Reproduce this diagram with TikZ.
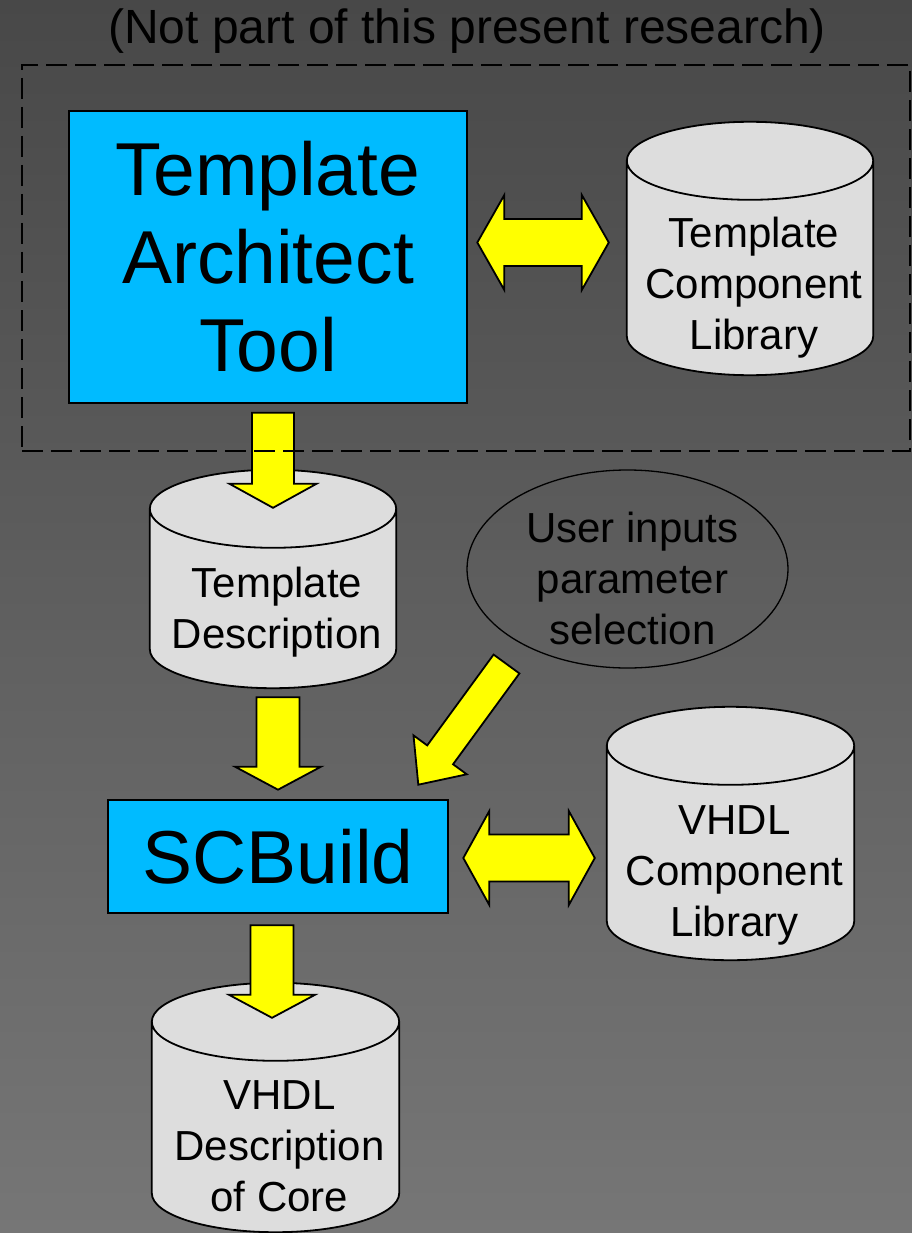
\documentclass[tikz,border=0pt]{standalone}
\usepackage{fontspec}
\setmainfont{Liberation Sans}
\usetikzlibrary{shapes.geometric,calc,backgrounds}

\definecolor{toolcyan}{RGB}{0,187,255}
\definecolor{flowyellow}{RGB}{255,255,0}
\definecolor{dbgray}{RGB}{221,221,221}
\definecolor{bgtop}{RGB}{72,72,72}
\definecolor{bgbottom}{RGB}{118,118,118}

\tikzset{
  toolbox/.style={draw,line width=2.6pt,fill=toolcyan,align=center,inner sep=0pt,
    font=\fontsize{75}{88}\selectfont},
  dbase/.style={rectangle,inner sep=0pt},
  dbline/.style={draw,line width=1.8pt,fill=dbgray},
  dbtext/.style={align=center,inner sep=0pt,xshift=4pt,font=\fontsize{42}{51}\selectfont},
  blockarrow/.style={draw,line width=1.8pt,fill=flowyellow,line join=miter},
}

% cylinder drawn round a named node
\newcommand{\dbshape}[1]{%
  \begin{scope}[on background layer]
    \path[dbline] let \p1=(#1.north west), \p2=(#1.south east), \n1={(\x2-\x1)/2} in
      (\x1,\y1-39pt) -- (\x1,\y2+39pt)
        arc[start angle=180,end angle=360,x radius=\n1*1pt,y radius=39pt]
      -- (\x2,\y1-39pt) arc[start angle=0,end angle=180,x radius=\n1*1pt,y radius=39pt]
      -- cycle
      (\x1,\y1-39pt) arc[start angle=180,end angle=360,x radius=\n1*1pt,y radius=39pt];
  \end{scope}
}
% fat arrow: start, tip, half shaft width, half head width, head length
\newcommand{\fatarrow}[5]{%
  \coordinate (fa-s) at (#1);
  \coordinate (fa-e) at (#2);
  \coordinate (fa-h) at ($(fa-e)!#5!(fa-s)$);
  \draw[blockarrow] ($(fa-s)!#3!90:(fa-e)$) -- ($(fa-h)!#3!90:(fa-e)$)
    -- ($(fa-h)!#4!90:(fa-e)$) -- (fa-e) -- ($(fa-h)!#4!-90:(fa-e)$)
    -- ($(fa-h)!#3!-90:(fa-e)$) -- ($(fa-s)!#3!-90:(fa-e)$) -- cycle;
}
% fat arrow with two heads
\newcommand{\fatdarrow}[5]{%
  \coordinate (fd-s) at (#1);
  \coordinate (fd-e) at (#2);
  \coordinate (fd-a) at ($(fd-s)!#5!(fd-e)$);
  \coordinate (fd-b) at ($(fd-e)!#5!(fd-s)$);
  \draw[blockarrow] (fd-s) -- ($(fd-a)!#4!90:(fd-e)$) -- ($(fd-a)!#3!90:(fd-e)$)
    -- ($(fd-b)!#3!90:(fd-e)$) -- ($(fd-b)!#4!90:(fd-e)$) -- (fd-e)
    -- ($(fd-b)!#4!-90:(fd-e)$) -- ($(fd-b)!#3!-90:(fd-e)$)
    -- ($(fd-a)!#3!-90:(fd-e)$) -- ($(fd-a)!#4!-90:(fd-e)$) -- cycle;
}

\begin{document}
\begin{tikzpicture}[x=1pt,y=-1pt]
  \begin{scope}[on background layer]
    \fill[top color=bgtop,bottom color=bgbottom] (0,0) rectangle (912,1233);
  \end{scope}
  \useasboundingbox (0,0) rectangle (912,1233);

  \node[font=\fontsize{48}{57}\selectfont] (title) at (467,31) {(Not part of this present research)};

  % top part
  \node[toolbox,minimum width=398,minimum height=292] (tat) at (268,257) {Template\\Architect\\Tool};
  \node[dbase,minimum width=246,minimum height=253,
    label={[dbtext,yshift=-39.5pt]center:Template\\Component\\Library}] (tcl) at (750,248.5) {};

  % middle
  \node[dbase,minimum width=246,minimum height=218,
    label={[dbtext,yshift=-33pt]center:Template\\Description}] (td) at (273,579) {};
  \node[draw,ellipse,line width=1.3pt,minimum width=321,minimum height=198,
    label={[dbtext,xshift=1pt,yshift=-9pt]center:User inputs\\parameter\\selection}] (user) at (627.5,569) {};

  \node[toolbox,minimum width=340,minimum height=113] (scb) at (278,856.5) {SCBuild};
  \node[dbase,minimum width=247,minimum height=253,
    label={[dbtext,yshift=-41.5pt]center:VHDL\\Component\\Library}] (vcl) at (730.5,833.5) {};

  % bottom
  \node[dbase,minimum width=247,minimum height=249,
    label={[dbtext,yshift=-39pt]center:VHDL\\Description\\of Core}] (vdc) at (275.5,1107.5) {};

  \dbshape{tcl}
  \dbshape{td}
  \dbshape{vcl}
  \dbshape{vdc}

  % arrows
  \fatdarrow{$(tat.east)+(9,-14.5)$}{$(tcl.west)+(-18,-6)$}{23.5pt}{47.5pt}{27pt}
  \fatarrow{$(td.north)+(0,-57)$}{$(td.north)+(0,38)$}{21pt}{43.5pt}{24pt}
  \fatarrow{$(td.south -| scb.north)+(0,9)$}{$(scb.north)+(0,-9)$}{21.5pt}{43pt}{23pt}
  \fatarrow{$(user.center)+(-121,95)$}{$(scb.north east)+(-31,-14)$}{16pt}{33pt}{37pt}
  \fatdarrow{$(scb.east)+(14,1.5)$}{$(vcl.west)+(-12,24.5)$}{23.5pt}{47pt}{26pt}
  \fatarrow{$(scb.south)+(-6,11)$}{$(vdc.north)+(-3.5,35)$}{21.5pt}{43pt}{23pt}

  \node[draw,line width=2pt,dash pattern=on 21pt off 8pt,minimum width=888,minimum height=386,
    inner sep=0pt] (scope) at (466,258) {};
\end{tikzpicture}
\end{document}
